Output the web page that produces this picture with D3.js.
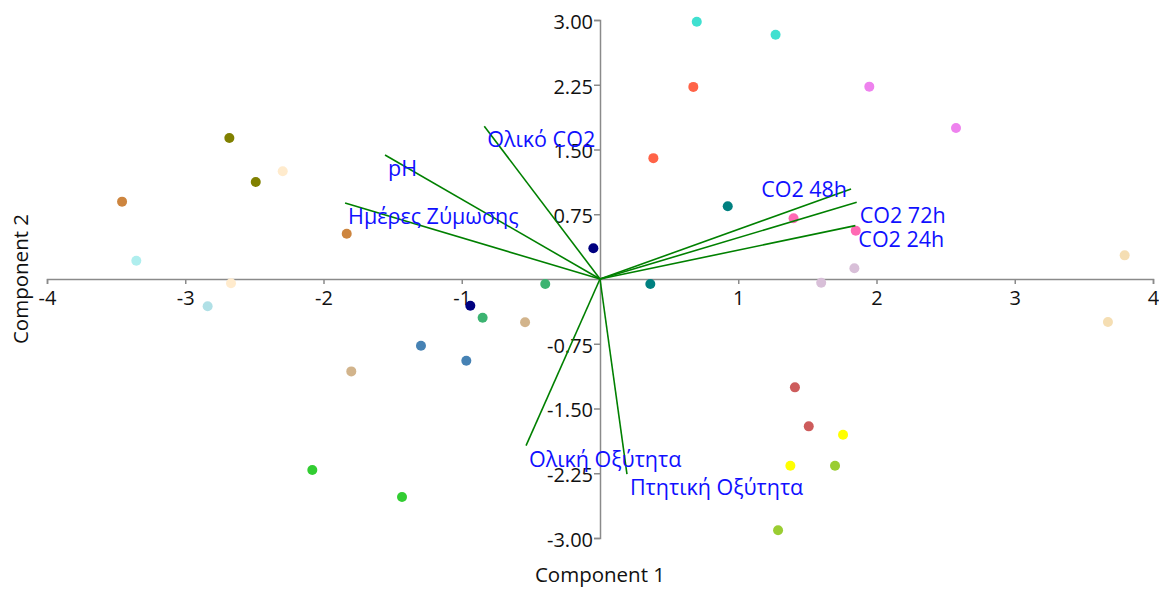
<!DOCTYPE html>
<html>
<head>
<meta charset="utf-8">
<script src="https://cdn.jsdelivr.net/npm/d3@7"></script>
<style>
  body { margin: 0; background: #fff; }
  svg text { font-family: "Open Sans", "Noto Sans", sans-serif; }
</style>
</head>
<body>
<svg id="chart" width="1159" height="589"></svg>
<script>
'use strict';

// scores (component 1, component 2) and point colour
const pc1 = [0.70, 1.27, 0.675, 0.386, 0.924, 1.40, -0.048, -0.396, 0.364, 1.948,
	2.575, 1.85, 1.84, 1.60, 3.795, 3.674, -2.681, -2.49, -2.295, -3.457,
	-1.832, -3.354, -2.669, -2.838, -1.799, -2.081, -1.432, -0.938, -0.849, -0.542,
	-1.295, -0.967, 1.41, 1.51, 1.758, 1.377, 1.70, 1.288];
const pc2 = [2.98, 2.83, 2.225, 1.40, 0.842, 0.703, 0.356, -0.058, -0.058, 2.228,
	1.75, 0.56, 0.124, -0.043, 0.274, -0.498, 1.634, 1.124, 1.248, 0.896,
	0.525, 0.212, -0.05, -0.316, -1.07, -2.213, -2.526, -0.309, -0.448, -0.502,
	-0.773, -0.946, -1.255, -1.707, -1.804, -2.163, -2.163, -2.91];
const pointColors = ["turquoise", "turquoise", "tomato", "tomato", "teal", "hotpink", "navy", "mediumseagreen", "teal", "violet",
	"violet", "hotpink", "thistle", "thistle", "wheat", "wheat", "olive", "olive", "blanchedalmond", "peru",
	"peru", "paleturquoise", "blanchedalmond", "powderblue", "tan", "limegreen", "limegreen", "navy", "mediumseagreen", "tan",
	"steelblue", "steelblue", "indianred", "indianred", "yellow", "yellow", "yellowgreen", "yellowgreen"];

// loadings
const varNames = ["pH", "Ημέρες Ζύμωσης", "Ολικό CO2", "CO2 48h", "CO2 72h", "CO2 24h", "Ολική Οξύτητα", "Πτητική Οξύτητα"];
const load1 = [-1.555, -1.844, -0.837, 1.816, 1.857, 1.847, -0.535, 0.195];
const load2 = [1.437, 0.88, 1.77, 1.043, 0.889, 0.618, -1.93, -2.26];

const xTicks = [-4, -3, -2, -1, 1, 2, 3, 4];
const yTicks = [3, 2.25, 1.5, 0.75, -0.75, -1.5, -2.25, -3];

let svg = d3.select("#chart"),
	margin = { top: 20, right: 6, bottom: 51, left: 47 },
	width = +svg.attr("width") - margin.left - margin.right,
	height = +svg.attr("height") - margin.top - margin.bottom,
	g = svg.append("g").attr("transform", "translate(" + margin.left + "," + margin.top + ")");

let x = d3.scaleLinear().domain([-4, 4]).range([0, width]);
let y = d3.scaleLinear().domain([-3, 3]).range([height, 0]);

// plain hyphen for negatives, like the original
let hy = function (f) { return function (d) { return f(d).replace("\u2212", "-"); }; };

let xAxis = g.append("g")
	.attr("transform", "translate(0," + y(0) + ")")
	.call(d3.axisBottom(x).tickValues(xTicks).tickFormat(hy(d3.format("d"))).tickSize(5).tickSizeOuter(5).tickPadding(7));

let yAxis = g.append("g")
	.attr("transform", "translate(" + x(0) + ",0)")
	.call(d3.axisLeft(y).tickValues(yTicks).tickFormat(hy(d3.format(".2f"))).tickSize(6).tickSizeOuter(6).tickPadding(1));

[xAxis, yAxis].forEach(function (a) {
	a.select(".domain").attr("stroke", "#8a8a8a").attr("stroke-width", 1.5);
	a.selectAll(".tick line").attr("stroke", "#8a8a8a").attr("stroke-width", 1.5);
	a.selectAll(".tick text").attr("fill", "#111").style("font-size", "20px");
});
yAxis.selectAll(".tick text").attr("dy", "0.42em");

// points
g.selectAll(".dot")
	.data(pc1.map(function (v, i) { return { x: v, y: pc2[i], c: pointColors[i] }; }))
	.enter().append("circle")
	.attr("class", "dot")
	.attr("cx", function (d) { return x(d.x); })
	.attr("cy", function (d) { return y(d.y); })
	.attr("r", 5)
	.attr("fill", function (d) { return d.c; });

// loading vectors
let loads = varNames.map(function (n, i) { return { name: n, x: load1[i], y: load2[i] }; });

g.selectAll(".vec")
	.data(loads)
	.enter().append("line")
	.attr("class", "vec")
	.attr("x1", x(0))
	.attr("y1", y(0))
	.attr("x2", function (d) { return x(d.x); })
	.attr("y2", function (d) { return y(d.y); })
	.attr("stroke", "green")
	.attr("stroke-width", 1.6);

g.selectAll(".vlabel")
	.data(loads)
	.enter().append("text")
	.attr("class", "vlabel")
	.attr("x", function (d) { return x(d.x) + (d.name === "CO2 48h" ? -4 : 3); })
	.attr("y", function (d) { return y(d.y) + (d.name === "CO2 48h" ? 8 : 21); })
	.attr("text-anchor", function (d) { return d.name === "CO2 48h" ? "end" : "start"; })
	.attr("fill", "#1010ff")
	.style("font-size", "21.5px")
	.text(function (d) { return d.name; });

// axis titles
svg.append("text")
	.attr("x", margin.left + x(0))
	.attr("y", 582)
	.attr("text-anchor", "middle")
	.attr("fill", "#111")
	.style("font-size", "20.5px")
	.text("Component 1");

svg.append("text")
	.attr("transform", "translate(28," + (margin.top + y(0)) + ") rotate(-90)")
	.attr("text-anchor", "middle")
	.attr("fill", "#111")
	.style("font-size", "20.5px")
	.text("Component 2");
</script>
</body>
</html>
